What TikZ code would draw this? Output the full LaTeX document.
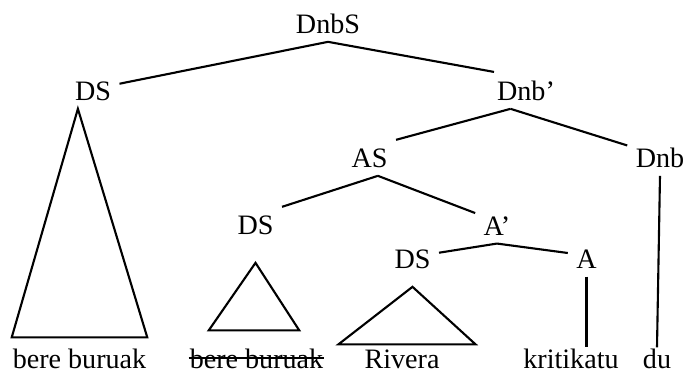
\documentclass[tikz,border=0pt]{standalone}
\usepackage{fontspec}
\setmainfont{Liberation Serif}
\begin{document}
\begin{tikzpicture}[every node/.style={font=\fontsize{16}{19}\selectfont},
    cat/.style={inner sep=0.15cm, anchor=base},
    leaf/.style={inner sep=0, anchor=base},
    line width=1.2pt]
      \useasboundingbox (0,0) rectangle (13.76,-7.56);
      \node [cat] (DnbS) at (6.56,-0.66) {DnbS};
      \node [cat] (DSa) at (1.86,-2.00) {DS};
      \node [cat] (Dnbbar) at (10.52,-2.00) {Dnb'};
      \node [cat] (AS) at (7.39,-3.34) {AS};
      \node [cat] (Dnb) at (13.20,-3.34) {Dnb};
      \node [cat] (DSb) at (5.11,-4.68) {DS};
      \node [cat] (Abar) at (9.94,-4.70) {A'};
      \node [cat] (DSc) at (8.25,-5.36) {DS};
      \node [cat] (A) at (11.73,-5.36) {A};
      \node [leaf] (bere) at (1.59,-7.36) {bere buruak};
      \node [leaf] (struck) at (5.13,-7.36) {bere buruak};
      \node [leaf] (Rivera) at (8.04,-7.36) {Rivera};
      \node [leaf] (kritikatu) at (11.42,-7.36) {kritikatu};
      \node [leaf] (du) at (13.14,-7.36) {du};
      \draw (DnbS.south) -- (DSa.15);
      \draw (DnbS.south) -- (Dnbbar.150);
      \draw (Dnbbar.230) -- (AS.north east);
      \draw (Dnbbar.230) -- (Dnb.160);
      \draw (AS.295) -- (DSb.north east);
      \draw (AS.295) -- (Abar.150);
      \draw (Abar.south) -- (DSc.13);
      \draw (Abar.south) -- (A.163);
      \draw (Dnb.south) -- (du.north);
      \draw (A.south) -- (A.south |- kritikatu.north);
      \draw (DSa.230) -- ([yshift=0.2cm]bere.north east) -- ([yshift=0.2cm]bere.north west) -- cycle;
      \draw ([yshift=-0.4cm]DSb.south) -- ([shift={(-0.5,0.34)}]struck.north east) -- ([shift={(0.4,0.34)}]struck.north west) -- cycle;
      \draw ([yshift=-0.2cm]DSc.south) -- ([shift={(0.7,0.08)}]Rivera.north east) -- ([shift={(-0.5,0.08)}]Rivera.north west) -- cycle;
      \draw (struck.west) -- (struck.east);
    \end{tikzpicture}
\end{document}
